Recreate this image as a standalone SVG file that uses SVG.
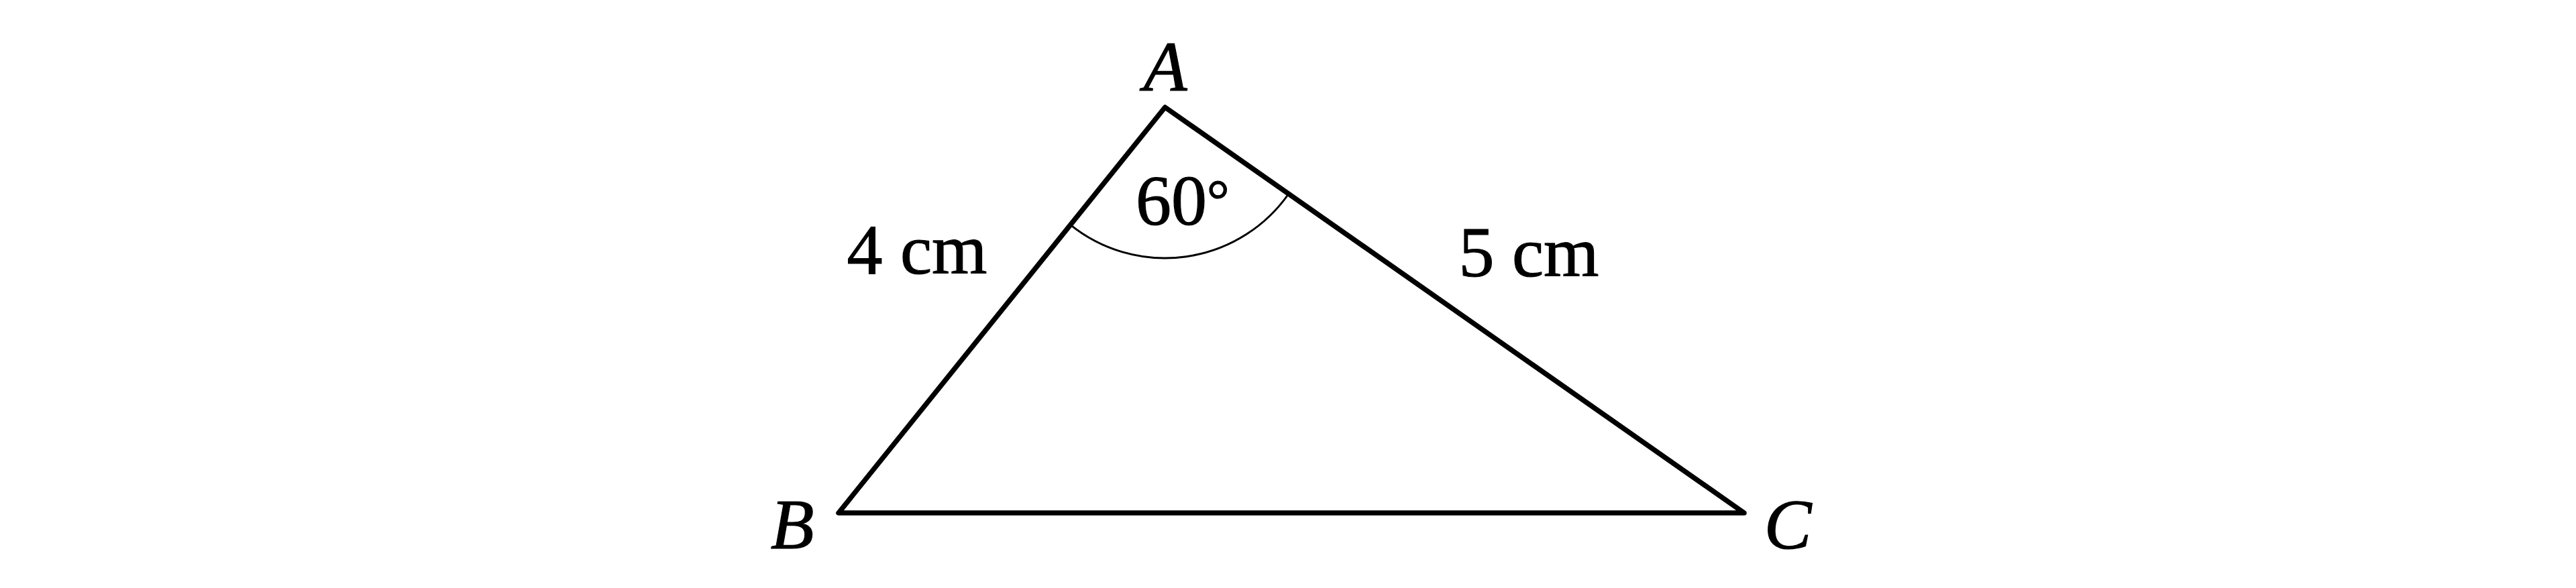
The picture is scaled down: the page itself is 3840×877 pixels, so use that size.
<svg xmlns="http://www.w3.org/2000/svg" width="3840" height="877" viewBox="0 0 3840 877">
<style>
.lbl{font-family:"Liberation Serif","Times New Roman",serif;font-size:106px;fill:#000;stroke:#000;stroke-width:1.2}
.it{font-style:italic}
.side{fill:none;stroke:#000;stroke-width:7.5;stroke-linecap:round;stroke-linejoin:round}
.arc{fill:none;stroke:#000;stroke-width:3}
</style>
<rect width="3840" height="877" fill="#fff"/>
<g id="connectors">
<path class="side" d="M1736.7,160 L1250,765 L2600,765 Z"/>
<path class="arc" d="M1595.7,335.3 A225,225 0 0 0 1921,289"/>
</g>
<g id="A"><text class="lbl it" x="1737" y="135" text-anchor="middle">A</text></g>
<g id="B"><text class="lbl it" x="1181" y="818" text-anchor="middle">B</text></g>
<g id="C"><text class="lbl it" x="2665" y="818" text-anchor="middle">C</text></g>
<g id="angle"><text class="lbl" x="1693" y="335">60<tspan font-size="84" dy="-8">°</tspan></text></g>
<g id="sideAB"><text class="lbl" x="1367" y="408" text-anchor="middle">4 cm</text></g>
<g id="sideAC"><text class="lbl" x="2279" y="412" text-anchor="middle">5 cm</text></g>
</svg>
